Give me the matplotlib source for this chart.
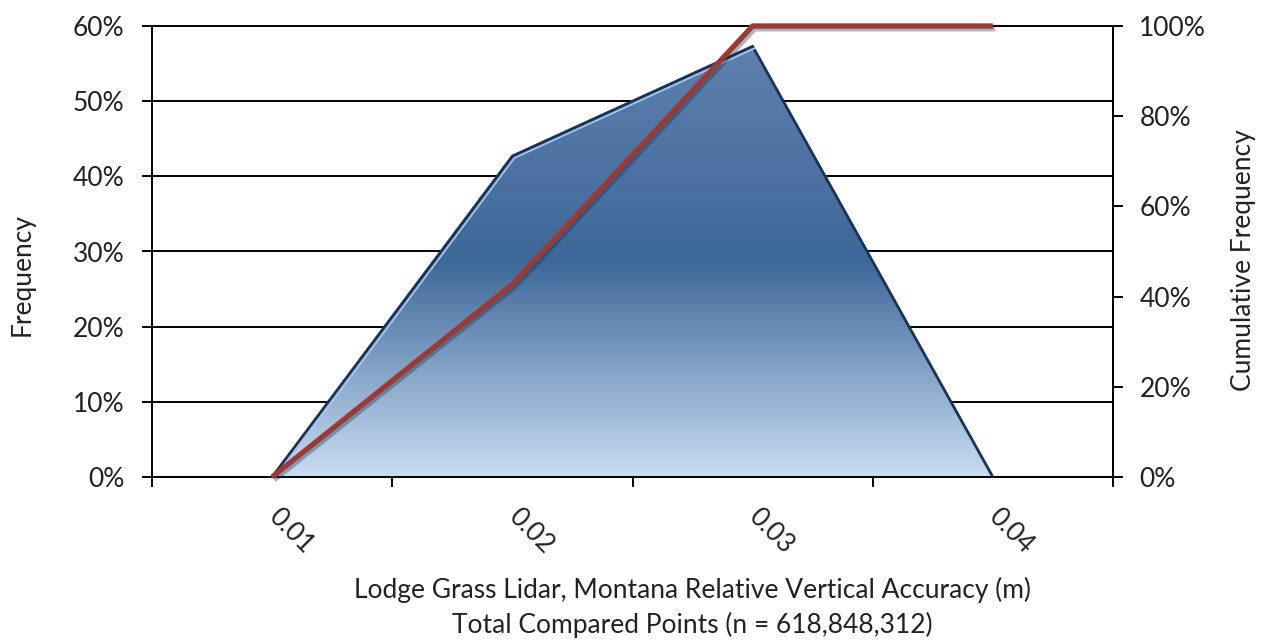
import matplotlib
matplotlib.use('Agg')
import matplotlib.pyplot as plt
import numpy as np
from matplotlib.colors import LinearSegmentedColormap
from matplotlib.ticker import PercentFormatter, FixedLocator
import matplotlib.patheffects as pe
import matplotlib.transforms as mtransforms

plt.rcParams['font.family'] = ['Lato', 'DejaVu Sans']

# data
categories = ['0.01', '0.02', '0.03', '0.04']
frequency = [0.0, 0.427, 0.573, 0.0]
cumulative = [0.0, 0.427, 1.0, 1.0]

txt = '#222222'
fs = 19

W, H = 1269, 642
fig = plt.figure(figsize=(W / 100, H / 100), dpi=100)
ax = fig.add_axes([152 / W, 1 - 477 / H, (1113 - 152) / W, (477 - 26) / H])

x = np.arange(len(categories))
ax.set_xlim(-0.5, len(categories) - 0.5)
ax.set_ylim(0, 0.6)

# area with vertical gradient
fill = ax.fill_between(x, frequency, 0, facecolor='none', edgecolor='none')
cmap = LinearSegmentedColormap.from_list(
    'area', [(0, '#c9ddf3'), (0.5, '#3e6899'), (1, '#5e80ae')])
grad = np.linspace(0, 1, 256).reshape(-1, 1)
img = ax.imshow(grad, cmap=cmap, origin='lower', aspect='auto',
                extent=[x[0], x[-1], 0, max(frequency)], zorder=2)
img.set_clip_path(fill.get_paths()[0], transform=ax.transData)

ax.plot(x, frequency, color='#1a3354', lw=2, zorder=3)
hl = mtransforms.offset_copy(ax.transData, fig=fig, x=2, y=-2, units='dots')
ax.plot(x[:3], frequency[:3], color='#a8c9ec', lw=1.2, zorder=3, transform=hl)

# grid / spines
ax.set_yticks(np.arange(0, 0.61, 0.1))
ax.yaxis.set_major_formatter(PercentFormatter(1, decimals=0))
ax.yaxis.grid(True, color='black', lw=1.4)
ax.set_axisbelow(True)
for s in ['top', 'left', 'bottom', 'right']:
    ax.spines[s].set_color('black')
    ax.spines[s].set_linewidth(1.4)
ax.tick_params(axis='y', length=7, width=1.4, color='black', labelsize=fs,
               labelcolor=txt, pad=13)

ax.xaxis.set_major_locator(FixedLocator(np.arange(-0.5, len(categories), 1)))
ax.xaxis.set_minor_locator(FixedLocator(x))
ax.set_xticklabels([])
ax.set_xticklabels(categories, minor=True)
ax.tick_params(axis='x', which='major', length=7, width=1.4, color='black')
ax.tick_params(axis='x', which='minor', length=0, pad=26, labelsize=fs,
               labelcolor=txt)
for lab in ax.get_xticklabels(minor=True):
    lab.set_rotation(-45)
    lab.set_ha('left')
    lab.set_va('center')
    lab.set_rotation_mode('anchor')

# cumulative line
ax2 = ax.twinx()
ax2.set_ylim(0, 1)
ax2.set_yticks(np.arange(0, 1.01, 0.2))
ax2.yaxis.set_major_formatter(PercentFormatter(1, decimals=0))
ax2.tick_params(axis='y', length=7, width=1.4, color='black', labelsize=fs,
                labelcolor=txt, pad=12)
for s in ax2.spines.values():
    s.set_visible(False)
ax2.spines['right'].set_visible(True)
ax2.spines['right'].set_linewidth(1.4)
ax2.plot(x, cumulative, color='#9b3a35', lw=3.8, clip_on=False,
         solid_capstyle='butt', solid_joinstyle='round',
         path_effects=[pe.SimpleLineShadow(offset=(1.5, -2), alpha=0.35,
                                           shadow_color='#1a2a40'),
                       pe.Normal()])

fig.text(22 / W, 1 - 275 / H, 'Frequency', rotation=90, ha='center',
         va='center', fontsize=fs, color=txt)
fig.text(1243 / W, 1 - 260 / H, 'Cumulative Frequency', rotation=90,
         ha='center', va='center', fontsize=fs, color=txt)
fig.text(692 / W, 1 - 590 / H,
         'Lodge Grass Lidar, Montana Relative Vertical Accuracy (m)',
         ha='center', va='center', fontsize=fs, color=txt)
fig.text(692 / W, 1 - 625 / H, 'Total Compared Points (n = 618,848,312)',
         ha='center', va='center', fontsize=fs, color=txt)

fig.savefig('out.png', dpi=100)
